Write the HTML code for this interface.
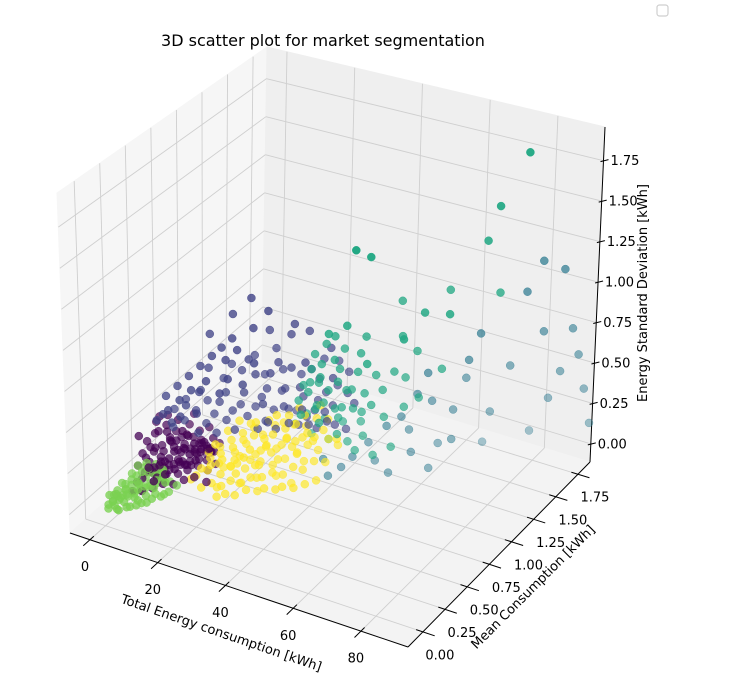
<!DOCTYPE html>
<html><head><meta charset="utf-8"><style>
html,body{margin:0;padding:0;background:#fff;}
svg{display:block;font-family:"DejaVu Sans","Liberation Sans",sans-serif;}
</style></head><body>
<svg id="chart" width="731" height="698" viewBox="0 0 731 698">
<text x="323" y="46" font-size="16" text-anchor="middle" fill="#000">3D scatter plot for market segmentation</text>
<rect x="657" y="5" width="11" height="11" rx="2.5" fill="#fff" stroke="#cfcfcf" stroke-width="1.2"/>
<g id="panes"></g>
<g id="grid"></g>
<g id="axes"></g>
<g id="points"></g>
<text x="0" y="0" font-size="13" text-anchor="middle" transform="translate(220,637) rotate(19)">Total Energy consumption [kWh]</text>
<text x="0" y="0" font-size="13" text-anchor="middle" transform="translate(536,590) rotate(-45)">Mean Consumption [kWh]</text>
<text x="0" y="0" font-size="13" text-anchor="middle" transform="translate(647,293) rotate(-90)">Energy Standard Deviation [kWh]</text>
</svg>
<script>
const xTicks = [0,20,40,60,80];
const yTicks = [0,0.25,0.5,0.75,1.0,1.25,1.5,1.75];
const zTicks = [0,0.25,0.5,0.75,1.0,1.25,1.5,1.75];
const yTickLabels = ["0.00","0.25","0.50","0.75","1.00","1.25","1.50","1.75"];
const zTickLabels = ["0.00","0.25","0.50","0.75","1.00","1.25","1.50","1.75"];
const clusterColors = ["#440154","#414487","#2a788e","#22a884","#7ad151","#fde725"];
const seriesGreen = [[0.5,0.02,0.01],[1,0.05,0.02],[1.5,0.03,0.03],[2,0.08,0.02],[2.5,0.1,0.04],[3,0.06,0.05],[3.5,0.12,0.03],[4,0.09,0.06],[4.5,0.15,0.04],[5,0.12,0.07],[5.5,0.18,0.05],[6,0.14,0.08],[6.5,0.2,0.06],[7,0.17,0.09],[7.5,0.22,0.07],[8,0.2,0.1],[8.5,0.25,0.08],[9,0.23,0.11],[9.5,0.28,0.09],[10,0.26,0.12],[1,0.1,0.06],[2,0.15,0.08],[3,0.18,0.1],[4,0.2,0.12],[5,0.22,0.14],[3,0.02,0.0],[5,0.05,0.01],[7,0.08,0.02],[9,0.12,0.03],[11,0.2,0.04],[6,0.25,0.15],[4,0.28,0.13],[2,0.22,0.11],[0,0.05,0.05],[1,0.0,0.0],[8,0.3,0.12],[7,0.1,0.04],[6,0.05,0.02],[4,0.0,0.01],[3,0.12,0.07],[5,0.3,0.1],[10,0.18,0.06],[12,0.25,0.05],[2,0.05,0.07],[6,0.15,0.11],[8,0.15,0.05],[9,0.3,0.14],[11,0.3,0.08],
[1.5,0.08,0.04],[2.5,0.13,0.06],[3.5,0.16,0.08],[4.5,0.19,0.09],[5.5,0.24,0.1],[6.5,0.27,0.12],[7.5,0.29,0.1],[8.5,0.32,0.11],[2,0.03,0.01],[4,0.06,0.03],[6,0.1,0.05],[8,0.1,0.03],[10,0.14,0.05],[12,0.2,0.06],[3,0.25,0.15],[5,0.27,0.17],[7,0.3,0.16],[0.5,0.08,0.04],[1,0.15,0.08],[11,0.25,0.1],[9,0.2,0.08],[13,0.3,0.07]];
const seriesPurple = [[4,0.2,0.08],[5,0.25,0.12],[6,0.3,0.1],[7,0.28,0.15],[8,0.35,0.12],[9,0.32,0.18],[10,0.38,0.14],[11,0.42,0.2],[12,0.4,0.16],[13,0.45,0.22],[14,0.48,0.18],[15,0.5,0.24],[16,0.52,0.2],[5,0.35,0.2],[6,0.4,0.22],[7,0.45,0.25],[8,0.48,0.28],[9,0.5,0.24],[10,0.55,0.3],[4,0.3,0.18],[3,0.25,0.15],[3,0.35,0.25],[4,0.4,0.28],[6,0.18,0.05],[8,0.22,0.06],[10,0.26,0.08],[12,0.3,0.07],[14,0.34,0.09],[16,0.38,0.1],[18,0.45,0.12],[17,0.55,0.26],[15,0.58,0.3],[13,0.55,0.28],[11,0.5,0.26],[9,0.42,0.22],[7,0.35,0.18],[5,0.3,0.16],[12,0.48,0.12],[14,0.42,0.14],[10,0.45,0.1],[8,0.4,0.08],[6,0.35,0.06],[11,0.35,0.24],[13,0.38,0.26],[15,0.42,0.28],[9,0.28,0.2],[7,0.22,0.18],[17,0.48,0.16],[18,0.52,0.2],[16,0.45,0.22],[2,0.3,0.3],[3,0.45,0.32],[5,0.5,0.35],[10,0.6,0.34],[13,0.62,0.1],[15,0.6,0.14],[12,0.58,0.18],[4,0.15,0.05],[9,0.2,0.12],[11,0.25,0.15],[13,0.28,0.18],[15,0.32,0.2],[17,0.36,0.22],[19,0.4,0.08],
[5,0.22,0.1],[6,0.27,0.14],[7,0.32,0.12],[8,0.3,0.16],[9,0.36,0.14],[10,0.33,0.2],[11,0.39,0.17],[12,0.43,0.22],[13,0.41,0.14],[14,0.46,0.2],[15,0.47,0.16],[16,0.49,0.26],[6,0.33,0.24],[7,0.38,0.2],[8,0.43,0.24],[9,0.46,0.18],[10,0.41,0.27],[11,0.46,0.23],[12,0.52,0.25],[13,0.5,0.19],[14,0.53,0.24],[15,0.55,0.2],[16,0.56,0.16],[17,0.5,0.22],[8,0.27,0.1],[10,0.3,0.12],[12,0.35,0.11],[14,0.38,0.13],[16,0.42,0.15],[18,0.48,0.24],[5,0.4,0.3],[7,0.42,0.3],[9,0.38,0.28],[11,0.44,0.32],[6,0.45,0.32],[4,0.35,0.22],[3,0.3,0.2],[13,0.33,0.2],[15,0.37,0.24],[17,0.42,0.26],[19,0.5,0.14],[18,0.58,0.22],[12,0.45,0.3],[8,0.5,0.34],[4,0.45,0.36]];
const seriesBlue = [[25,0.85,0.95],[30,0.95,0.85],[33,1.0,0.8],[22,0.8,0.85],[20,0.7,0.75],[18,0.65,0.7],[38,1.05,0.7],[42,1.1,0.55],[35,0.95,0.6],[28,0.85,0.65],[24,0.75,0.6],[15,0.55,0.6],[12,0.5,0.55],[10,0.45,0.5],[8,0.4,0.45],[6,0.35,0.4],[14,0.6,0.45],[18,0.65,0.5],[22,0.7,0.5],[26,0.8,0.5],[30,0.85,0.5],[34,0.9,0.45],[38,1.0,0.45],[40,1.0,0.38],[36,0.95,0.35],[32,0.9,0.35],[28,0.8,0.38],[24,0.75,0.4],[20,0.65,0.4],[16,0.6,0.38],[12,0.55,0.4],[10,0.5,0.35],[8,0.45,0.32],[14,0.5,0.3],[18,0.55,0.3],[22,0.6,0.32],[26,0.7,0.3],[30,0.75,0.3],[34,0.85,0.3],[38,0.9,0.28],[42,0.95,0.3],[44,1.0,0.26],[20,0.75,0.6],[16,0.7,0.55],[12,0.6,0.5],[24,0.85,0.55],[28,0.9,0.58],[32,0.95,0.55],[36,1.0,0.52],[40,1.05,0.48],[15,0.45,0.45],[19,0.55,0.55],[23,0.65,0.58],[27,0.72,0.45],[31,0.8,0.42],[35,0.85,0.4],[11,0.42,0.42],[9,0.55,0.45],[7,0.5,0.4],[26,0.9,0.7],[21,0.85,0.65],[17,0.75,0.62],[29,0.7,0.36],[33,0.78,0.34],[37,0.85,0.32],[41,0.9,0.34],[5,0.45,0.38],[13,0.65,0.62],[45,1.05,0.4],[39,1.1,0.6],
[6,0.45,0.5],[8,0.5,0.55],[10,0.55,0.6],[12,0.6,0.65],[14,0.65,0.7],[16,0.68,0.75],[18,0.72,0.8],[9,0.4,0.38],[11,0.48,0.46],[13,0.55,0.52],[17,0.62,0.45],[21,0.7,0.42],[25,0.78,0.45],[29,0.85,0.48],[33,0.9,0.5],[37,0.95,0.42],[23,0.7,0.36],[27,0.75,0.33],[31,0.85,0.38],[35,0.9,0.33],[39,0.95,0.36],[19,0.62,0.35],[15,0.55,0.34],[22,0.75,0.68],[27,0.8,0.6],[31,0.88,0.62],[34,0.92,0.65],[20,0.6,0.62],[25,0.7,0.7],[29,0.95,0.78],[24,0.9,0.8],[36,1.05,0.62],[40,1.0,0.55],[43,1.05,0.45],[12,0.7,0.8],[16,0.8,0.9],[20,0.85,1.0]];
const seriesYellow = [[16,0.4,0.1],[18,0.45,0.12],[20,0.5,0.15],[22,0.55,0.12],[24,0.58,0.18],[26,0.62,0.15],[28,0.66,0.2],[30,0.7,0.18],[32,0.74,0.22],[34,0.78,0.2],[36,0.82,0.25],[38,0.86,0.22],[40,0.9,0.28],[17,0.5,0.2],[19,0.55,0.22],[21,0.6,0.25],[23,0.65,0.28],[25,0.7,0.3],[27,0.72,0.26],[29,0.78,0.3],[31,0.8,0.32],[33,0.84,0.3],[35,0.88,0.35],[18,0.38,0.05],[20,0.42,0.07],[22,0.45,0.05],[24,0.48,0.08],[26,0.52,0.06],[28,0.55,0.09],[30,0.6,0.08],[32,0.64,0.1],[34,0.68,0.08],[36,0.72,0.12],[38,0.75,0.1],[40,0.8,0.14],[42,0.85,0.12],[20,0.55,0.1],[22,0.6,0.18],[24,0.65,0.22],[26,0.55,0.2],[28,0.6,0.14],[30,0.65,0.25],[32,0.7,0.15],[34,0.72,0.28],[36,0.76,0.18],[38,0.8,0.3],[25,0.5,0.12],[27,0.58,0.24],[29,0.62,0.16],[31,0.68,0.12],[33,0.76,0.26],[35,0.8,0.16],[37,0.84,0.2],[39,0.88,0.16],[19,0.45,0.16],[21,0.5,0.18],[23,0.52,0.14],[17,0.42,0.14],[15,0.38,0.08],[41,0.92,0.22],[43,0.95,0.18],[30,0.55,0.02],[34,0.6,0.03],[38,0.65,0.04],[26,0.45,0.02],[22,0.4,0.01],[40,0.7,0.05],[36,0.6,0.06],[28,0.5,0.04],[32,0.55,0.05],[24,0.42,0.03],[42,0.75,0.06],[44,0.9,0.25],[20,0.6,0.3],[24,0.7,0.32],[28,0.75,0.34],[32,0.82,0.36],
[18,0.48,0.18],[20,0.52,0.2],[22,0.58,0.22],[24,0.62,0.26],[26,0.66,0.28],[28,0.7,0.25],[30,0.72,0.28],[32,0.78,0.3],[34,0.82,0.32],[36,0.86,0.3],[38,0.9,0.34],[40,0.95,0.32],[21,0.48,0.1],[23,0.56,0.16],[25,0.6,0.1],[27,0.64,0.18],[29,0.68,0.22],[31,0.72,0.2],[33,0.74,0.14],[35,0.78,0.24],[37,0.8,0.12],[39,0.84,0.26],[26,0.68,0.35],[30,0.76,0.38],[34,0.86,0.4],[38,0.94,0.4],[22,0.65,0.35],[19,0.5,0.26],[24,0.55,0.15],[28,0.64,0.12],[32,0.68,0.06],[36,0.7,0.03],[29,0.58,0.08],[25,0.54,0.04],[21,0.44,0.04]];
const seriesTealGreen = [[76,1.75,1.78],[72,1.6,1.5],[70,1.55,1.3],[45,1.05,1.35],[48,1.1,1.3],[62,1.45,1.0],[60,1.25,0.95],[52,1.3,0.95],[58,1.1,0.85],[66,1.3,0.95],[74,1.55,1.0],[40,0.95,0.85],[44,1.0,0.9],[55,1.2,0.8],[50,1.0,0.7],[47,1.1,0.8],[38,0.95,0.65],[42,1.0,0.62],[46,1.05,0.6],[50,1.1,0.58],[54,1.15,0.6],[36,0.9,0.55],[40,0.95,0.5],[44,1.0,0.5],[48,1.05,0.48],[52,1.1,0.5],[56,1.2,0.55],[34,0.85,0.45],[38,0.9,0.42],[42,0.95,0.4],[46,1.0,0.4],[50,1.05,0.42],[35,0.9,0.35],[39,0.95,0.32],[43,1.0,0.3],[47,1.05,0.3],[33,0.85,0.3],[37,0.88,0.25],[41,0.92,0.22],[45,0.98,0.2],[49,1.0,0.25],[53,1.08,0.35],[57,1.15,0.4],[60,1.2,0.45],[64,1.3,0.6],[36,0.8,0.4],[40,0.85,0.35],[44,0.9,0.28],[48,0.95,0.18],[52,1.0,0.15],[56,1.05,0.2],[38,1.0,0.75],[42,1.05,0.72],[58,1.25,0.7],[35,0.95,0.6],
[36,0.88,0.5],[38,0.92,0.55],[40,0.9,0.45],[42,0.98,0.55],[44,0.95,0.42],[37,0.92,0.38],[39,0.9,0.6],[41,0.98,0.68],[43,0.95,0.35],[45,1.02,0.5],[34,0.9,0.52],[36,0.95,0.7],[46,1.08,0.7],[48,1.02,0.38],[40,1.02,0.8]];
const seriesTealBlue = [[80,1.8,1.1],[85,1.85,1.05],[78,1.7,0.95],[88,1.85,0.7],[82,1.75,0.7],[70,1.5,0.75],[90,1.85,0.55],[86,1.8,0.45],[75,1.65,0.5],[66,1.5,0.45],[92,1.85,0.35],[84,1.75,0.3],[72,1.55,0.25],[65,1.4,0.3],[60,1.35,0.35],[94,1.85,0.15],[80,1.7,0.1],[70,1.55,0.05],[62,1.35,0.1],[56,1.25,0.2],[55,1.2,0.3],[52,1.15,0.25],[48,1.1,0.15],[50,1.1,0.05],[46,1.0,0.1],[44,0.95,0.05],[58,1.2,0.1],[54,1.1,0.0],[40,0.9,0.1],[42,0.88,0.02],[62,1.25,0.0],[66,1.35,0.15],[60,1.3,0.55],[68,1.45,0.6],[57,1.3,0.4]];

const XR=[-5.9,93.9], YR=[-0.168,1.886], ZR=[-0.112,1.958];
const C={ '000':[70,533],'100':[408,647],'110':[590,462],'010':[262,362],
          '001':[57,193],'101':[413,298],'111':[605,127],'011':[267,47]};
function norm(x,y,z){return [(x-XR[0])/(XR[1]-XR[0]),(y-YR[0])/(YR[1]-YR[0]),(z-ZR[0])/(ZR[1]-ZR[0])];}
function P(x,y,z){
  const [u,v,w]=norm(x,y,z); const r=[0,0];
  for(const a of [0,1])for(const b of [0,1])for(const c of [0,1]){
    const wt=(a?u:1-u)*(b?v:1-v)*(c?w:1-w); const p=C[''+a+b+c];
    r[0]+=wt*p[0]; r[1]+=wt*p[1];
  }
  return r;
}
const NS='http://www.w3.org/2000/svg';
function mk(tag,attrs,parent){const e=document.createElementNS(NS,tag);for(const k in attrs)e.setAttribute(k,attrs[k]);parent.appendChild(e);return e;}
const panes=document.getElementById('panes'), grid=document.getElementById('grid'), axes=document.getElementById('axes'), pts=document.getElementById('points');
function poly(list,fill,name){
  const e=mk('polygon',{points:list.map(p=>p.join(',')).join(' '),fill:fill,stroke:fill},panes);
  
  
}
poly([C['000'],C['010'],C['011'],C['001']],'#f6f6f6','left-pane');
poly([C['010'],C['110'],C['111'],C['011']],'#efefef','back-pane');
poly([C['000'],C['100'],C['110'],C['010']],'#f3f3f3','floor-pane');
function line(a,b,parent,stroke,sw,name){
  const e=mk('line',{x1:a[0],y1:a[1],x2:b[0],y2:b[1],stroke:stroke,'stroke-width':sw},parent);
  
  
  return e;
}
const GC='#cfcfcf';
xTicks.forEach(x=>{
  line(P(x,YR[0],ZR[0]),P(x,YR[1],ZR[0]),grid,GC,0.9,'x-gridline-floor');
  line(P(x,YR[1],ZR[0]),P(x,YR[1],ZR[1]),grid,GC,0.9,'x-gridline-back');
});
yTicks.forEach(y=>{
  line(P(XR[0],y,ZR[0]),P(XR[1],y,ZR[0]),grid,GC,0.9,'y-gridline-floor');
  line(P(XR[0],y,ZR[0]),P(XR[0],y,ZR[1]),grid,GC,0.9,'y-gridline-left');
});
zTicks.forEach(z=>{
  line(P(XR[0],YR[0],z),P(XR[0],YR[1],z),grid,GC,0.9,'z-gridline-left');
  line(P(XR[0],YR[1],z),P(XR[1],YR[1],z),grid,GC,0.9,'z-gridline-back');
});
line(P(XR[0],YR[0],ZR[0]),P(XR[1],YR[0],ZR[0]),axes,'#000',1,'x-axis-line');
line(P(XR[1],YR[0],ZR[0]),P(XR[1],YR[1],ZR[0]),axes,'#000',1,'y-axis-line');
line(P(XR[1],YR[1],ZR[0]),P(XR[1],YR[1],ZR[1]),axes,'#000',1,'z-axis-line');
function label(txt,x,y,anchor,name){
  const t=mk('text',{x:x,y:y,'font-size':13,'text-anchor':anchor,'dominant-baseline':'central',fill:'#000'},axes);
  t.textContent=txt;
  
  
}
const yspan=YR[1]-YR[0], xspan=XR[1]-XR[0];
xTicks.forEach(x=>{
  line(P(x,YR[0]+0.02*yspan,ZR[0]),P(x,YR[0]-0.035*yspan,ZR[0]),axes,'#000',1,'x-tick');
  const p=P(x,YR[0],ZR[0]); label(String(x),p[0]-5,p[1]+28,'middle','x-tick-label');
});
yTicks.forEach((y,i)=>{
  line(P(XR[1]-0.02*xspan,y,ZR[0]),P(XR[1]+0.035*xspan,y,ZR[0]),axes,'#000',1,'y-tick');
  const p=P(XR[1],y,ZR[0]); label(yTickLabels[i],p[0]+17,p[1]+24,'middle','y-tick-label');
});
zTicks.forEach((z,i)=>{
  const p=P(XR[1],YR[1],z);
  line([p[0]-3,p[1]+1],[p[0]+5,p[1]-1],axes,'#000',1,'z-tick');
  label(zTickLabels[i],p[0]+7,p[1]+1,'start','z-tick-label');
});
const all=[];
[[seriesPurple,0],[seriesBlue,1],[seriesTealBlue,2],[seriesTealGreen,3],[seriesGreen,4],[seriesYellow,5]].forEach(([s,ci])=>{
  s.forEach(d=>{const [u,v,w]=norm(d[0],d[1],d[2]); all.push({d:d,c:clusterColors[ci],n:0.433*u-0.75*v+0.5*w});});
});
let nmin=Infinity,nmax=-Infinity; all.forEach(p=>{nmin=Math.min(nmin,p.n);nmax=Math.max(nmax,p.n);});
all.sort((a,b)=>a.n-b.n);
all.forEach(p=>{
  const s=P(p.d[0],p.d[1],p.d[2]);
  const a=0.4+0.6*(p.n-nmin)/(nmax-nmin);
  const e=mk('circle',{cx:s[0].toFixed(1),cy:s[1].toFixed(1),r:4,fill:p.c,'fill-opacity':a.toFixed(2),stroke:p.c,'stroke-opacity':a.toFixed(2),'stroke-width':0.5},pts);
  
  
});
</script>
</body></html>
